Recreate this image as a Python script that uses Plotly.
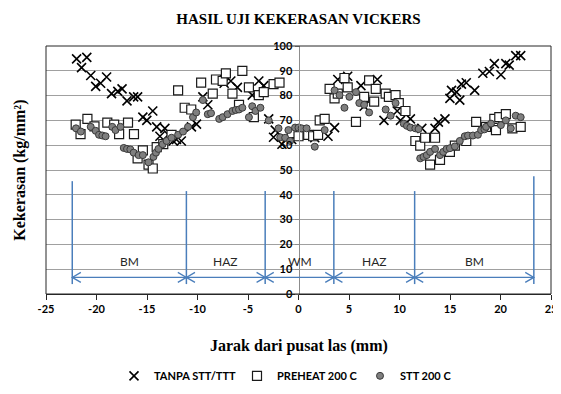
import plotly.graph_objects as go

# ---------------- data ----------------
tanpa_x = [-21.97, -21.48, -20.96, -20.57, -20.08, -19.59, -19.0, -18.51, -17.89, -17.47, -16.98, -16.32,
           -15.93, -15.41, -15.02, -14.43, -14.04, -13.72, -13.23, -12.9, -12.41, -12.08, -11.6, -10.6,
           -10.1, -9.47, -8.98, -7.36, -6.7, -6.05, -4.58, -3.93, -3.44, -2.95, -2.47, -2.3, -1.64, -0.67,
           1.61, 2.92, 3.57, 3.89, 4.87, 6.18, 6.5, 7.81, 8.46, 9.77, 10.1, 11.08, 12.21, 12.54, 13.52,
           13.85, 14.5, 14.99, 15.15, 15.64, 15.97, 16.13, 16.61, 17.44, 18.25, 18.9, 19.39, 20.04, 20.53,
           20.86, 21.51, 22.0]
tanpa_y = [94.8, 91.3, 95.4, 88.1, 83.7, 85.0, 87.5, 80.8, 81.7, 82.7, 77.9, 79.5,
           79.5, 71.3, 70.0, 73.8, 67.4, 63.6, 66.8, 64.2, 61.7, 62.3, 61.7, 67.4,
           68.5, 79.5, 76.3, 85.0, 85.9, 83.3, 80.2, 85.9, 84.0, 70.6, 63.2, 66.1, 60.4, 62.3,
           63.0, 63.6, 67.1, 86.5, 87.8, 84.0, 75.7, 86.5, 70.0, 73.8, 70.0, 70.6, 66.8, 63.0, 66.8,
           69.3, 70.6, 78.9, 82.1, 81.4, 78.2, 84.6, 85.2, 82.1, 89.0, 89.7, 92.9, 88.4, 92.9,
           92.3, 96.1, 96.1]

preheat_x = [-22.06, -21.58, -20.9, -20.2, -18.93, -18.25, -17.76, -16.88, -16.29, -15.93, -15.41, -14.85,
             -14.43, -14.04, -13.39, -12.57, -11.92, -11.27, -10.62, -9.64, -8.49, -8.17, -7.51, -7.19,
             -6.54, -5.89, -5.56, -4.91, -4.42, -3.93, -3.44, -2.47, -1.88, -0.67, 0.0, 0.96, 1.45, 1.94,
             2.1, 2.59, 3.08, 3.57, 3.89, 4.55, 4.87, 5.69, 6.5, 6.99, 7.49, 7.65, 8.63, 8.95, 9.61,
             9.93, 10.59, 11.57, 12.05, 12.54, 13.03, 13.52, 14.01, 14.99, 15.48, 16.61, 17.59, 18.57,
             19.39, 19.55, 19.88, 20.53, 21.18, 22.0]
preheat_y = [68.3, 64.5, 70.6, 67.6, 69.1, 68.3, 64.5, 69.1, 64.5, 54.7, 57.9, 52.2,
             50.6, 59.2, 60.4, 64.2, 82.1, 75.1, 74.4, 85.2, 80.8, 86.5, 85.9, 89.0,
             80.8, 76.3, 90.0, 83.3, 71.3, 80.2, 81.4, 84.6, 85.2, 64.9, 63.6, 64.2, 63.6, 64.2,
             70.0, 70.6, 82.7, 78.9, 80.8, 87.1, 83.3, 69.4, 79.5, 86.1, 77.6, 82.7, 80.8, 79.5, 80.2,
             77.0, 73.8, 61.7, 59.8, 63.0, 52.2, 63.0, 54.1, 57.3, 59.8, 61.7, 69.4, 67.4,
             70.6, 66.1, 71.3, 72.5, 66.8, 67.4]

stt_x = [-22.03, -21.55, -20.57, -20.08, -19.75, -19.42, -19.1, -18.44, -18.12, -17.63, -17.3, -16.98,
         -16.65, -16.32, -15.83, -15.41, -14.85, -14.36, -14.11, -13.87, -13.45, -13.06, -12.57, -11.92,
         -11.43, -10.94, -10.45, -10.13, -9.47, -8.98, -8.66, -7.85, -7.51, -7.03, -6.54, -6.21, -5.89,
         -5.56, -4.91, -4.58, -4.26, -3.77, -2.95, -1.98, -1.81, -1.32, -1.0, -0.83, -0.34, 0.0, 0.31,
         0.8, 1.61, 2.59, 3.57, 4.06, 4.55, 5.04, 5.69, 6.02, 6.5, 6.99, 8.63, 9.12, 9.61, 10.42,
         10.74, 11.08, 11.57, 11.89, 12.05, 12.38, 12.7, 13.03, 13.52, 14.01, 14.33, 14.66, 14.99,
         15.48, 15.97, 16.46, 16.78, 17.27, 17.76, 18.08, 18.41, 18.57, 19.06, 20.04, 20.53, 21.02,
         21.51, 22.0]
stt_y = [66.8, 65.5, 67.4, 65.8, 64.2, 63.9, 63.6, 67.4, 66.1, 67.4, 58.9, 58.5,
         58.3, 57.0, 56.0, 56.0, 53.1, 55.3, 57.0, 58.5, 60.4, 61.7, 63.0, 64.2,
         65.5, 67.4, 71.3, 73.2, 78.2, 72.5, 72.9, 70.6, 71.3, 72.5, 73.8, 74.2, 74.4,
         75.1, 71.3, 75.7, 73.8, 75.1, 70.0, 66.8, 63.2, 63.0, 66.1, 61.7, 67.1, 67.1, 66.8,
         66.8, 59.4, 66.1, 82.1, 80.2, 75.1, 79.5, 81.4, 77.0, 76.3, 73.2, 74.4, 71.9, 77.0, 68.7,
         67.8, 67.1, 66.8, 66.5, 54.7, 55.3, 56.0, 57.3, 58.5, 56.0, 57.3, 58.5, 58.8,
         59.5, 61.7, 63.6, 63.9, 63.9, 64.2, 66.1, 66.4, 67.4, 68.7, 68.1, 70.0, 66.8,
         71.9, 71.3]

series_names = ["TANPA STT/TTT", "PREHEAT 200 C", "STT 200 C"]

# weld zones
zone_edges = [-22.4, -11.1, -3.3, 3.5, 11.5, 23.3]
zone_tops = [45.5, 41.5, 41.5, 41.5, 41.5, 47.5]
zone_labels = ["BM", "HAZ", "WM", "HAZ", "BM"]
zone_bottom = 4
arrow_y = 6.7
label_y = 13.3

x_ticks = [-25, -20, -15, -10, -5, 0, 5, 10, 15, 20, 25]
y_ticks = [0, 10, 20, 30, 40, 50, 60, 70, 80, 90, 100]

# ---------------- figure ----------------
SANS = "Lato, 'Open Sans', sans-serif"
SERIF = "'Liberation Serif', 'Times New Roman', serif"
BLUE = "#4a7ebb"

fig = go.Figure()
fig.add_trace(go.Scatter(x=tanpa_x, y=tanpa_y, mode="markers", name=f"<b>{series_names[0]}</b>",
                         marker=dict(symbol="x-thin-open", size=9, color="black",
                                     line=dict(color="black", width=1.6))))
fig.add_trace(go.Scatter(x=preheat_x, y=preheat_y, mode="markers", name=f"<b>{series_names[1]}</b>",
                         marker=dict(symbol="square", size=9, color="white",
                                     line=dict(color="#1a1a1a", width=1.2))))
fig.add_trace(go.Scatter(x=stt_x, y=stt_y, mode="markers", name=f"<b>{series_names[2]}</b>",
                         marker=dict(symbol="circle", size=7, color="#7f7f7f",
                                     line=dict(color="#3a3a3a", width=1))))

shapes = []
for xe, top in zip(zone_edges, zone_tops):
    shapes.append(dict(type="line", xref="x", yref="y", x0=xe, x1=xe, y0=zone_bottom, y1=top,
                       line=dict(color=BLUE, width=1.5)))
annotations = []
hx, hy = 0.85, 2.0
for i in range(len(zone_edges) - 1):
    a, b = zone_edges[i], zone_edges[i + 1]
    shapes.append(dict(type="line", xref="x", yref="y", x0=a, x1=b, y0=arrow_y, y1=arrow_y,
                       line=dict(color=BLUE, width=1.3)))
    shapes.append(dict(type="path", xref="x", yref="y",
                       path=f"M {a+hx},{arrow_y+hy} L {a},{arrow_y} L {a+hx},{arrow_y-hy}",
                       line=dict(color=BLUE, width=1.3)))
    shapes.append(dict(type="path", xref="x", yref="y",
                       path=f"M {b-hx},{arrow_y+hy} L {b},{arrow_y} L {b-hx},{arrow_y-hy}",
                       line=dict(color=BLUE, width=1.3)))
    annotations.append(dict(x=(a + b) / 2, y=label_y, xref="x", yref="y", text=zone_labels[i],
                            showarrow=False, font=dict(family=SANS, size=12, color="#262626")))

# plot frame
shapes.append(dict(type="rect", xref="paper", yref="paper", x0=0, x1=1, y0=0, y1=1,
                   line=dict(color="#262626", width=1), layer="above"))

annotations.append(dict(text="<b>Kekerasan (kg/mm²)</b>", xref="paper", yref="paper",
                        x=-0.052, y=0.5, textangle=-90, showarrow=False, xanchor="center",
                        yanchor="middle", font=dict(family=SERIF, size=16, color="black")))
annotations.append(dict(text="<b>Jarak dari pusat las (mm)</b>", xref="paper", yref="paper",
                        x=0.5, y=-0.208, showarrow=False, xanchor="center", yanchor="middle",
                        font=dict(family=SERIF, size=16, color="black")))

fig.update_layout(
    width=561, height=394,
    margin=dict(l=38, r=12, t=38, b=94),
    paper_bgcolor="white", plot_bgcolor="white",
    title=dict(text="<b>HASIL UJI KEKERASAN VICKERS</b>", x=0.5, xref="paper", xanchor="center",
               y=0.972, yanchor="middle",
               font=dict(family=SERIF, size=15, color="black", weight="bold")),
    xaxis=dict(range=[-25, 25], tickvals=x_ticks, ticktext=[f"<b>{v}</b>" for v in x_ticks],
               showgrid=False, zeroline=False,
               showline=True, linecolor="#262626", linewidth=1, ticks="outside", ticklen=5,
               tickcolor="#262626",
               tickfont=dict(family=SANS, size=11, color="black", weight="bold")),
    yaxis=dict(range=[0, 100], tickvals=y_ticks, ticktext=[f"<b>{v}</b>" for v in y_ticks],
               showgrid=True, gridcolor="#a0a0a0", gridwidth=1,
               zeroline=False, showline=True, linecolor="#8c8c8c", linewidth=1,
               anchor="free", position=0.5, ticks="outside", ticklen=4, tickcolor="#8c8c8c",
               tickfont=dict(family=SANS, size=11, color="black", weight="bold")),
    legend=dict(orientation="h", x=0.5, xanchor="center", y=-0.33, yanchor="middle",
                font=dict(family=SANS, size=11, color="black", weight="bold"),
                itemwidth=30, entrywidth=78, bgcolor="rgba(0,0,0,0)"),
    shapes=shapes,
    annotations=annotations,
    showlegend=True,
)

fig.write_html("out.html")
